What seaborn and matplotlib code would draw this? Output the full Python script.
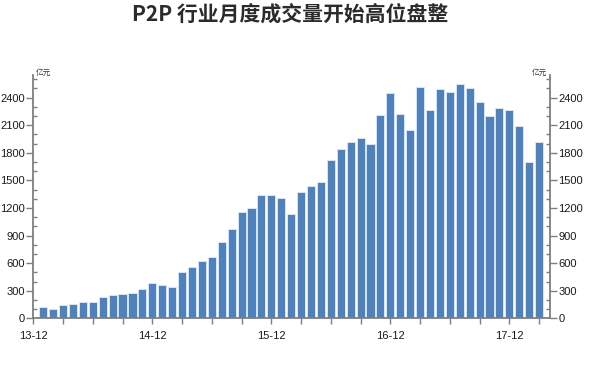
import numpy as np
import pandas as pd
import matplotlib
matplotlib.use("Agg")
import matplotlib.pyplot as plt
import seaborn as sns

# ---- data (亿元, monthly P2P volume, 14-01 .. 18-03) ----
months = [
    "14-01", "14-02", "14-03", "14-04", "14-05", "14-06", "14-07", "14-08", "14-09", "14-10", "14-11", "14-12",
    "15-01", "15-02", "15-03", "15-04", "15-05", "15-06", "15-07", "15-08", "15-09", "15-10", "15-11", "15-12",
    "16-01", "16-02", "16-03", "16-04", "16-05", "16-06", "16-07", "16-08", "16-09", "16-10", "16-11", "16-12",
    "17-01", "17-02", "17-03", "17-04", "17-05", "17-06", "17-07", "17-08", "17-09", "17-10", "17-11", "17-12",
    "18-01", "18-02", "18-03",
]
volumes = [
    123, 104, 145, 155, 174, 174, 228, 257, 264, 275, 322, 380,
    364, 340, 507, 561, 620, 667, 833, 975, 1156, 1205, 1337, 1344,
    1308, 1134, 1370, 1439, 1486, 1721, 1838, 1921, 1957, 1892, 2207, 2450,
    2218, 2044, 2519, 2265, 2497, 2461, 2548, 2508, 2356, 2197, 2290, 2265,
    2091, 1696, 1921,
]
y_ticks = [0, 300, 600, 900, 1200, 1500, 1800, 2100, 2400]
x_tick_labels = ["13-12", "14-12", "15-12", "16-12", "17-12"]
title = "P2P 行业月度成交量开始高位盘整"
unit = "亿元"

sns.set_theme(style="white")
plt.rcParams['font.family'] = ['Liberation Sans', 'Noto Sans CJK SC', 'DejaVu Sans']

fig = plt.figure(figsize=(5.89, 3.70), dpi=100)
ax = fig.add_axes([33.3 / 589, 1 - 318.3 / 370, (550 - 33.3) / 589, (318.3 - 75) / 370])

df = pd.DataFrame({"month": months, "volume": volumes})
sns.barplot(data=df, x="month", y="volume", color="#4f81bd", saturation=1,
            width=0.82, edgecolor="#dbe5f1", linewidth=0.7, ax=ax)

ax.set_xlim(-1, 51.1)
ax.set_ylim(0, 2646)
ax.set_xlabel("")
ax.set_ylabel("")

axis_color = "#7f7f7f"
# x ticks every 3 months, labels every 12
xpos = np.arange(-1, 51, 3)
ax.set_xticks(xpos)
lab_pos = {-1 + 12 * i: l for i, l in enumerate(x_tick_labels)}
ax.set_xticklabels([lab_pos.get(p, "") for p in xpos])
ax.tick_params(axis="x", which="major", direction="out", length=4, width=1,
               color=axis_color, labelsize=8, labelcolor="#1a1a1a", pad=5.5, bottom=True)

# left y axis
ax.set_yticks(y_ticks)
ax.set_yticks(np.arange(0, 2601, 100), minor=True)
ax.tick_params(axis="y", which="major", direction="out", length=5, width=1,
               color=axis_color, labelsize=8, labelcolor="#1a1a1a", pad=1, left=True)
ax.tick_params(axis="y", which="minor", direction="in", length=3, width=1,
               color=axis_color, left=True)

# right y axis
ax2 = ax.twinx()
ax2.set_ylim(ax.get_ylim())
ax2.set_yticks(y_ticks)
ax2.set_yticks(np.arange(0, 2601, 100), minor=True)
ax2.tick_params(axis="y", which="major", direction="out", length=5, width=1,
                color=axis_color, labelsize=8, labelcolor="#1a1a1a", pad=1, right=True)
ax2.tick_params(axis="y", which="minor", direction="in", length=3, width=1,
                color=axis_color, right=True)
ax2.grid(False)
ax.grid(False)

for a in (ax, ax2):
    for s in a.spines.values():
        s.set_color(axis_color)
        s.set_linewidth(1.3)
    a.spines["top"].set_visible(False)
ax.spines["right"].set_visible(False)
ax2.spines["left"].set_visible(False)
ax2.spines["bottom"].set_visible(False)

# unit labels
fig.text(36 / 589, 1 - 73 / 370, unit, fontsize=5.5, color="#333333",
         ha="left", va="center", style="italic")
fig.text(547 / 589, 1 - 73 / 370, unit, fontsize=5.5, color="#333333",
         ha="right", va="center", style="italic")

# title
fig.text(290.5 / 589, 1 - 14 / 370, title, fontsize=15, fontweight="bold",
         color="#2b2b2b", ha="center", va="center",
         family=['Noto Sans CJK SC', 'DejaVu Sans'])

fig.savefig("out.png", dpi=100, facecolor="white")
